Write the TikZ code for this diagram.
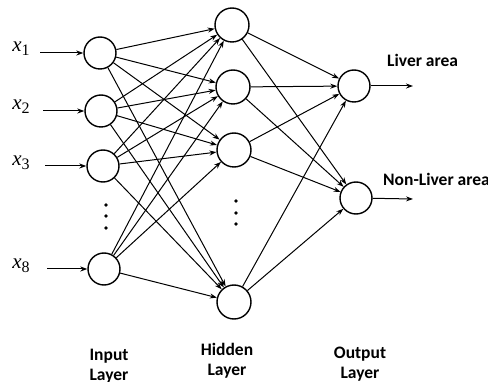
\documentclass[tikz,border=0pt]{standalone}
\usepackage{fontspec}
\setmainfont{Liberation Serif}
\newfontfamily\lblfont{Carlito}
\usetikzlibrary{arrows.meta}
\begin{document}
\begin{tikzpicture}[x=1pt,y=-1pt,
  neuron/.style={circle,draw,line width=1.4pt,minimum size=32pt,inner sep=0pt},
  conn/.style={line width=1pt,-{Stealth[length=7pt,width=5pt]}},
  xlab/.style={font=\fontsize{21}{21}\selectfont\itshape,inner sep=0pt},
  llab/.style={font=\fontsize{17.5}{20}\selectfont\lblfont\bfseries,align=center,inner sep=0pt},
  dot/.style={circle,fill,inner sep=0pt,minimum size=3.8pt}]
\useasboundingbox (0,0) rectangle (488,382);
% input layer
\node[neuron] (i1) at (100,53) {};
\node[neuron] (i2) at (101,111) {};
\node[neuron] (i3) at (103,166) {};
\node[neuron] (i4) at (104,269) {};
% hidden layer
\node[neuron,minimum size=34pt] (h1) at (232,25) {};
\node[neuron,minimum size=34pt] (h2) at (233,87) {};
\node[neuron,minimum size=34pt] (h3) at (234,150) {};
\node[neuron,minimum size=34pt] (h4) at (234,302) {};
% output layer
\node[neuron] (o1) at (354,86) {};
\node[neuron] (o2) at (356,198) {};
% input labels
\node[xlab] (x1) at (21,49) {x\raisebox{-0.45ex}{\upshape\fontsize{16}{16}\selectfont 1}};
\node[xlab] (x2) at (21,107) {x\raisebox{-0.45ex}{\upshape\fontsize{16}{16}\selectfont 2}};
\node[xlab] (x3) at (21,163) {x\raisebox{-0.45ex}{\upshape\fontsize{16}{16}\selectfont 3}};
\node[xlab] (x8) at (21,266) {x\raisebox{-0.45ex}{\upshape\fontsize{16}{16}\selectfont 8}};
\coordinate (s1) at (40,53);
\coordinate (s2) at (43,111);
\coordinate (s3) at (45,166);
\coordinate (s8) at (47,269);
\draw[conn] (s1) -- (i1);
\draw[conn] (s2) -- (i2);
\draw[conn] (s3) -- (i3);
\draw[conn] (s8) -- (i4);
% input -> hidden
\foreach \a in {i1,i2,i3,i4}{
  \foreach \b in {h1,h2,h3,h4}{
    \draw[conn] (\a) -- (\b);
  }
}
% hidden -> output
\foreach \a in {h1,h2,h3,h4}{
  \foreach \b in {o1,o2}{
    \draw[conn] (\a) -- (\b);
  }
}
% outputs
\coordinate (e1) at (413,86);
\coordinate (e2) at (413,199);
\draw[conn] (o1) -- (e1);
\draw[conn] (o2) -- (e2);
\node[llab,anchor=west] (t1) at (387,60) {Liver area};
\node[llab,anchor=west] (t2) at (383,179) {Non-Liver area};
% dots
\node[dot] (d1) at (106,205) {};
\node[dot] (d2) at (106,216) {};
\node[dot] (d3) at (106,228) {};
\node[dot] (d4) at (236,201) {};
\node[dot] (d5) at (236,213) {};
\node[dot] (d6) at (236,224) {};
% layer labels
\node[llab] (L1) at (109,366) {Input\\Layer};
\node[llab] (L2) at (227,361) {Hidden\\Layer};
\node[llab] (L3) at (360,364) {Output\\Layer};
\end{tikzpicture}
\end{document}
